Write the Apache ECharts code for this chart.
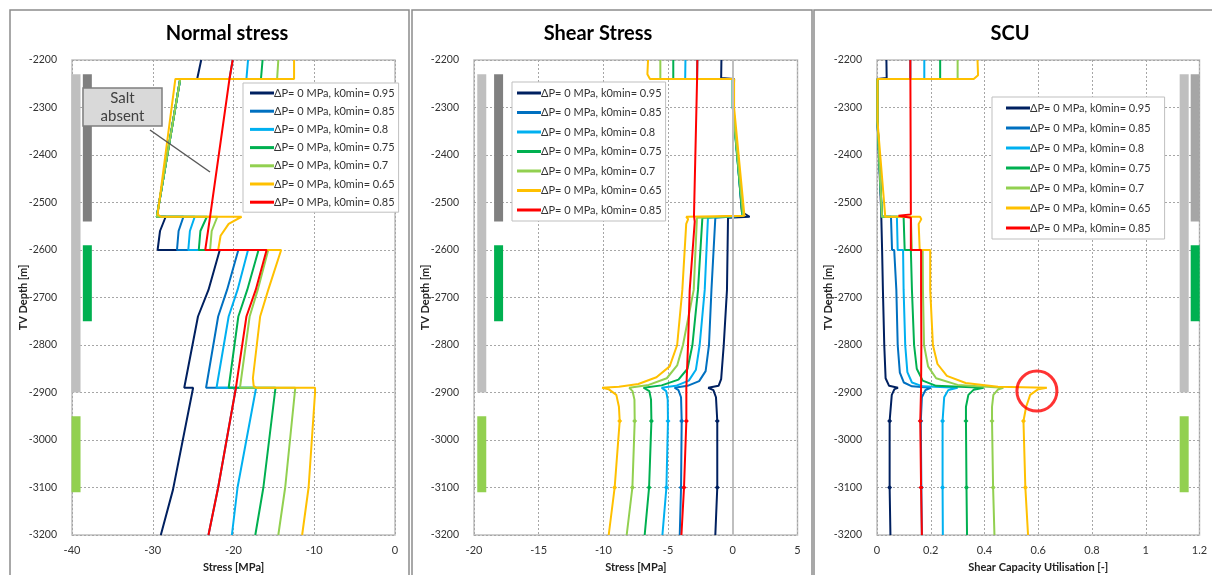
<!DOCTYPE html>
<html>
<head>
    <meta charset="UTF-8">
    <title>Normal stress / Shear Stress / SCU</title>
    <script src="https://cdn.jsdelivr.net/npm/echarts@6/dist/echarts.min.js"></script>
    <style>
        body { margin: 0; background: #fff; }
        #chart { width: 1212px; height: 575px; }
    </style>
</head>
<body>
    <div id="chart"></div>
    <script>
        // series keys and legend texts (blue and red share the same label)
        var seriesKeys = ['k095', 'k085', 'k080', 'k075', 'k070', 'k065', 'k085b'];
        var legendText = {
            k095: 'ΔP= 0 MPa, k0min= 0.95',
            k085: 'ΔP= 0 MPa, k0min= 0.85',
            k080: 'ΔP= 0 MPa, k0min= 0.8',
            k075: 'ΔP= 0 MPa, k0min= 0.75',
            k070: 'ΔP= 0 MPa, k0min= 0.7',
            k065: 'ΔP= 0 MPa, k0min= 0.65',
            k085b: 'ΔP= 0 MPa, k0min= 0.85'
        };
        var colors = ['#002060', '#0070c0', '#00b0f0', '#00b050', '#92d050', '#ffc000', '#ff0000'];

        // ---- Normal stress [MPa] vs depth [m]
        var normal095 = [[-24.0,-2200],[-24.5,-2240],[-26.6,-2240],[-29.2,-2500],[-29.5,-2530],[-28.4,-2530],[-29.1,-2560],[-29.4,-2600],[-21.7,-2600],[-23.1,-2684],[-24.4,-2740],[-26.1,-2890],[-25.0,-2890],[-27.5,-3105],[-29.0,-3200]];
        var normal085 = [[-20.1,-2200],[-20.5,-2240],[-26.6,-2240],[-29.2,-2500],[-29.5,-2530],[-26.2,-2530],[-26.8,-2560],[-27.0,-2600],[-19.4,-2600],[-20.8,-2684],[-21.9,-2740],[-23.4,-2890],[-19.7,-2890],[-21.9,-3100],[-23.1,-3200]];
        var normal080 = [[-18.2,-2200],[-18.4,-2240],[-26.6,-2240],[-29.2,-2500],[-29.5,-2530],[-24.8,-2530],[-25.4,-2560],[-25.6,-2600],[-18.2,-2600],[-19.5,-2684],[-20.6,-2740],[-22.1,-2890],[-17.2,-2890],[-19.5,-3100],[-20.2,-3200]];
        var normal075 = [[-16.4,-2200],[-16.6,-2240],[-26.6,-2240],[-29.2,-2500],[-29.5,-2530],[-23.3,-2530],[-24.1,-2560],[-24.3,-2600],[-16.9,-2600],[-18.3,-2684],[-19.4,-2740],[-20.6,-2890],[-14.8,-2890],[-16.3,-3100],[-17.3,-3200]];
        var normal070 = [[-14.45,-2200],[-14.6,-2240],[-26.6,-2240],[-29.2,-2500],[-29.5,-2530],[-22.0,-2530],[-22.7,-2560],[-22.9,-2600],[-15.7,-2600],[-17.0,-2684],[-18.0,-2740],[-19.2,-2890],[-12.35,-2890],[-13.6,-3100],[-14.45,-3200]];
        var normal065 = [[-12.5,-2200],[-12.5,-2240],[-27.2,-2240],[-29.2,-2500],[-29.4,-2525],[-29.0,-2530],[-19.0,-2530],[-20.6,-2545],[-21.6,-2570],[-21.9,-2600],[-14.1,-2600],[-15.7,-2684],[-16.7,-2740],[-17.6,-2870],[-17.5,-2886],[-17.2,-2890],[-9.9,-2890],[-9.9,-2900],[-10.7,-3100],[-11.5,-3200]];
        var normal085b = [[-20.1,-2200],[-20.5,-2240],[-22.9,-2530],[-23.5,-2600],[-15.9,-2600],[-17.25,-2684],[-18.4,-2740],[-19.7,-2890],[-21.9,-3100],[-23.1,-3200]];

        // ---- Shear stress [MPa] vs depth [m]
        var shear095 = [[-0.88,-2200],[-0.9,-2238],[0.1,-2240],[0.05,-2300],[0.7,-2520],[1.3,-2530],[-0.37,-2532],[-0.45,-2684],[-0.70,-2800],[-0.9,-2872],[-1.1,-2886],[-1.9,-2890],[-1.5,-2895],[-1.3,-2910],[-1.2,-2960],[-1.2,-3100],[-1.35,-3200]];
        var shear085 = [[-2.74,-2200],[-2.76,-2240],[0.0,-2240],[0.0,-2300],[0.8,-2528],[0.8,-2530],[-1.35,-2532],[-1.65,-2684],[-1.84,-2800],[-2.1,-2855],[-2.6,-2876],[-3.5,-2886],[-4.5,-2890],[-4.2,-2895],[-4.0,-2910],[-3.95,-2960],[-4.0,-3100],[-4.1,-3200]];
        var shear080 = [[-3.66,-2200],[-3.68,-2240],[0.0,-2240],[0.0,-2300],[0.75,-2528],[0.75,-2530],[-1.92,-2532],[-2.17,-2684],[-2.56,-2800],[-2.85,-2852],[-3.4,-2875],[-4.4,-2886],[-5.5,-2890],[-5.15,-2897],[-5.03,-2915],[-5.01,-2960],[-5.13,-3100],[-5.44,-3200]];
        var shear075 = [[-4.6,-2200],[-4.6,-2240],[0.0,-2240],[0.0,-2300],[0.75,-2528],[0.75,-2530],[-2.35,-2532],[-2.69,-2684],[-3.12,-2800],[-3.5,-2850],[-4.2,-2873],[-5.5,-2885],[-6.9,-2890],[-6.45,-2897],[-6.32,-2915],[-6.29,-2960],[-6.47,-3100],[-6.81,-3200]];
        var shear070 = [[-5.6,-2200],[-5.6,-2240],[0.0,-2240],[0.0,-2300],[0.8,-2528],[0.8,-2530],[-2.77,-2532],[-3.02,-2684],[-3.85,-2800],[-4.3,-2843],[-5.1,-2870],[-6.5,-2884],[-8.0,-2890],[-7.75,-2897],[-7.6,-2915],[-7.58,-2960],[-7.76,-3100],[-8.2,-3200]];
        var shear065 = [[-6.55,-2200],[-6.6,-2230],[-6.4,-2240],[0.1,-2240],[0.1,-2300],[0.9,-2528],[0.9,-2530],[-3.6,-2530],[-3.45,-2535],[-3.6,-2545],[-3.9,-2684],[-4.3,-2800],[-4.88,-2845],[-5.9,-2868],[-7.3,-2882],[-8.8,-2888],[-10.1,-2890],[-9.6,-2893],[-9.0,-2905],[-8.8,-2930],[-8.74,-2960],[-9.13,-3100],[-9.59,-3200]];
        var shear085b = [[-2.74,-2200],[-2.76,-2240],[-3.0,-2528],[-2.85,-2532],[-2.94,-2540],[-3.33,-2684],[-3.46,-2800],[-3.59,-2890],[-3.59,-2960],[-3.77,-3100],[-3.97,-3200]];

        // ---- Shear capacity utilisation [-] vs depth [m]
        var scu095 = [[0.035,-2200],[0.036,-2238],[0.002,-2240],[0.002,-2330],[0.016,-2525],[0.016,-2530],[0.012,-2532],[0.019,-2600],[0.025,-2600],[0.022,-2684],[0.027,-2800],[0.032,-2870],[0.045,-2886],[0.078,-2890],[0.065,-2893],[0.055,-2905],[0.047,-2960],[0.047,-3100],[0.05,-3200]];
        var scu085 = [[0.124,-2200],[0.124,-2240],[0.002,-2240],[0.002,-2330],[0.018,-2525],[0.018,-2530],[0.052,-2530],[0.056,-2600],[0.064,-2600],[0.072,-2684],[0.077,-2800],[0.085,-2858],[0.1,-2879],[0.13,-2887],[0.2,-2890],[0.18,-2895],[0.167,-2910],[0.163,-2960],[0.165,-3100],[0.167,-3200]];
        var scu080 = [[0.176,-2200],[0.176,-2240],[0.002,-2240],[0.002,-2330],[0.018,-2525],[0.018,-2530],[0.074,-2530],[0.077,-2600],[0.097,-2600],[0.099,-2684],[0.105,-2800],[0.113,-2857],[0.13,-2879],[0.17,-2887],[0.3,-2890],[0.265,-2895],[0.25,-2910],[0.244,-2960],[0.244,-3100],[0.245,-3200]];
        var scu075 = [[0.235,-2200],[0.235,-2240],[0.002,-2240],[0.002,-2330],[0.018,-2525],[0.018,-2530],[0.099,-2530],[0.103,-2600],[0.126,-2600],[0.13,-2684],[0.138,-2800],[0.148,-2850],[0.17,-2875],[0.22,-2886],[0.397,-2890],[0.36,-2894],[0.34,-2905],[0.331,-2930],[0.331,-2960],[0.333,-3100],[0.335,-3200]];
        var scu070 = [[0.30,-2200],[0.30,-2240],[0.002,-2240],[0.002,-2330],[0.018,-2525],[0.018,-2530],[0.126,-2530],[0.13,-2600],[0.17,-2600],[0.171,-2684],[0.175,-2800],[0.19,-2845],[0.22,-2870],[0.3,-2884],[0.47,-2890],[0.45,-2894],[0.433,-2905],[0.428,-2930],[0.428,-2960],[0.432,-3100],[0.437,-3200]];
        var scu065 = [[0.374,-2200],[0.376,-2232],[0.36,-2240],[0.002,-2240],[0.002,-2330],[0.03,-2525],[0.03,-2530],[0.16,-2530],[0.165,-2535],[0.155,-2545],[0.159,-2600],[0.198,-2600],[0.198,-2684],[0.208,-2800],[0.225,-2840],[0.26,-2865],[0.33,-2880],[0.45,-2888],[0.632,-2890],[0.6,-2893],[0.57,-2905],[0.555,-2930],[0.545,-2960],[0.552,-3100],[0.562,-3200]];
        var scu085b = [[0.124,-2200],[0.126,-2525],[0.08,-2528],[0.126,-2532],[0.126,-2600],[0.164,-2600],[0.164,-2684],[0.165,-2800],[0.164,-2890],[0.161,-2960],[0.164,-3100],[0.167,-3200]];

        // depth intervals of the formation bars [top, bottom]
        var saltZone = [-2230, -2900];     // light grey
        var upperZone = [-2230, -2540];    // dark grey
        var reservoirA = [-2590, -2750];   // green
        var reservoirB = [-2950, -3110];   // light green
        // x of the two bar columns in each panel (data units)
        var barColumns = [[-39.5, -38.1], [-19.4, -18.1], [1.143, 1.184]];
        var darkBarColor = ['#7f7f7f', '#808080', '#a6a6a6'];

        // depths where the shear / SCU curves carry small point markers
        var markerDepths = [-2960, -3100];

        // marked point on the SCU plot
        var scuPeak = [[0.595, -2897]];

        var panelTitles = ['Normal stress', 'Shear Stress', 'SCU'];
        var xNames = ['Stress [MPa]', 'Stress [MPa]', 'Shear Capacity Utilisation [-]'];
        var xRanges = [[-40, 0, 10], [-20, 5, 5], [0, 1.2, 0.2]];
        var depthRange = [-3200, -2200, 100];

        var panels = [
            [normal095, normal085, normal080, normal075, normal070, normal065, normal085b],
            [shear095, shear085, shear080, shear075, shear070, shear065, shear085b],
            [scu095, scu085, scu080, scu075, scu070, scu065, scu085b]
        ];

        var gridPos = [
            { left: 72, top: 60, width: 323, height: 475 },
            { left: 474, top: 60, width: 323.5, height: 475 },
            { left: 877, top: 60, width: 322.5, height: 475 }
        ];
        var titlePos = [[222, 19], [593, 19], [1005, 19]];
        var legendPos = [
            { left: 243, top: 83, itemGap: 4.2, padding: [3, 4, 3, 7] },
            { left: 512, top: 82, itemGap: 5.5, padding: [4, 4, 4, 5] },
            { left: 992, top: 97, itemGap: 6, padding: [4, 14, 4, 14] }
        ];

        var font = 'Lato, "Open Sans", sans-serif';
        var grids = [], xAxes = [], yAxes = [], titles = [], legends = [], series = [];

        function withMarkers(pts, on) {
            if (!on) return pts;
            return pts.map(function (pt) {
                if (markerDepths.indexOf(pt[1]) !== -1) {
                    return { value: pt, symbol: 'diamond', symbolSize: 5 };
                }
                return pt;
            });
        }

        for (var p = 0; p < 3; p++) {
            grids.push({
                left: gridPos[p].left, top: gridPos[p].top, width: gridPos[p].width, height: gridPos[p].height,
                outerBoundsMode: 'none',
                show: true, borderColor: '#bfbfbf', borderWidth: 1.5, backgroundColor: '#fff'
            });
            xAxes.push({
                type: 'value', gridIndex: p, min: xRanges[p][0], max: xRanges[p][1], interval: xRanges[p][2],
                name: xNames[p], nameLocation: 'middle', nameGap: 27,
                nameTextStyle: { fontFamily: font, fontWeight: 'bold', fontSize: 11, color: '#222' },
                axisLine: { show: false }, axisTick: { show: false },
                axisLabel: { fontFamily: font, fontSize: 11, color: '#333', margin: 10 },
                splitLine: { lineStyle: { type: [2, 2], color: '#a6a6a6', width: 1 } }
            });
            yAxes.push({
                type: 'value', gridIndex: p, min: depthRange[0], max: depthRange[1], interval: depthRange[2],
                name: 'TV Depth [m]', nameLocation: 'middle', nameGap: 43, nameMoveOverlap: false,
                nameTextStyle: { fontFamily: font, fontWeight: 'bold', fontSize: 11, color: '#222' },
                axisLine: { show: false }, axisTick: { show: false },
                axisLabel: {
                    fontFamily: font, fontSize: 10.5, color: '#333', margin: 15,
                    formatter: function (v) { return String(v); }
                },
                splitLine: { lineStyle: { type: [2, 2], color: '#a6a6a6', width: 1 } }
            });
            titles.push({
                text: panelTitles[p], left: titlePos[p][0], top: titlePos[p][1], textAlign: 'center',
                textStyle: { fontFamily: font, fontWeight: 'bold', fontSize: 20, color: '#000' }
            });
            legends.push({
                data: seriesKeys.slice(), orient: 'vertical',
                left: legendPos[p].left, top: legendPos[p].top, itemGap: legendPos[p].itemGap, padding: legendPos[p].padding,
                backgroundColor: '#fff', borderColor: '#bfbfbf', borderWidth: 1,
                icon: 'rect', itemWidth: 24, itemHeight: 3, selectedMode: false,
                formatter: function (name) { return legendText[name]; },
                textStyle: { fontFamily: font, fontSize: 11, color: '#333', lineHeight: 14, padding: [0, 0, 0, -5] }
            });

            // formation bars
            var cols = barColumns[p];
            var bars = [
                { x: cols[0], zone: saltZone, color: '#bfbfbf' },
                { x: cols[1], zone: upperZone, color: darkBarColor[p] },
                { x: cols[1], zone: reservoirA, color: '#00b050' },
                { x: cols[0], zone: reservoirB, color: '#92d050' }
            ];
            for (var b = 0; b < bars.length; b++) {
                var barSeries = {
                    type: 'line', xAxisIndex: p, yAxisIndex: p, silent: true, symbol: 'none', z: 1,
                    data: [[bars[b].x, bars[b].zone[0]], [bars[b].x, bars[b].zone[1]]],
                    lineStyle: { color: bars[b].color, width: 9, cap: 'butt' }
                };
                if (p === 1 && b === 0) {
                    barSeries.markLine = {
                        silent: true, symbol: 'none', label: { show: false },
                        lineStyle: { color: '#bfbfbf', width: 2, type: 'solid' },
                        data: [{ xAxis: 0 }]
                    };
                }
                series.push(barSeries);
            }

            for (var s = 0; s < seriesKeys.length; s++) {
                series.push({
                    name: seriesKeys[s], type: 'line', xAxisIndex: p, yAxisIndex: p,
                    data: withMarkers(panels[p][s], p > 0), symbol: 'none', showSymbol: p > 0, z: 3,
                    silent: true,
                    lineStyle: { color: colors[s], width: 2 }, itemStyle: { color: colors[s] }
                });
            }
        }

        series.push({
            type: 'scatter', xAxisIndex: 2, yAxisIndex: 2, data: scuPeak, symbol: 'circle', symbolSize: 40, z: 4,
            itemStyle: { color: 'rgba(0,0,0,0)', borderColor: '#ff0000', borderWidth: 3 }, silent: true
        });

        var option = {
            backgroundColor: '#fff',
            animation: false,
            title: titles,
            legend: legends,
            grid: grids,
            xAxis: xAxes,
            yAxis: yAxes,
            series: series,
            graphic: [
                { type: 'rect', shape: { x: 10, y: 10, width: 399, height: 600 }, style: { fill: 'none', stroke: '#8c8c8c', lineWidth: 1.5 }, z: 0 },
                { type: 'rect', shape: { x: 412, y: 10, width: 400, height: 600 }, style: { fill: 'none', stroke: '#8c8c8c', lineWidth: 1.5 }, z: 0 },
                { type: 'rect', shape: { x: 814, y: 10, width: 420, height: 600 }, style: { fill: 'none', stroke: '#8c8c8c', lineWidth: 1.5 }, z: 0 },
                { type: 'line', shape: { x1: 150, y1: 130, x2: 210, y2: 172 }, style: { stroke: '#595959', lineWidth: 1.5 }, z: 10 },
                { type: 'rect', shape: { x: 83, y: 88, width: 79, height: 38 }, style: { fill: '#d9d9d9', stroke: '#7f7f7f', lineWidth: 1.5 }, z: 10 },
                {
                    type: 'text', x: 122.5, y: 107, z: 11,
                    style: { text: 'Salt\nabsent', fontFamily: font, fontSize: 15, fill: '#404040', align: 'center', verticalAlign: 'middle', lineHeight: 18 }
                }
            ]
        };

        var myChart = echarts.init(document.getElementById('chart'));
        myChart.setOption(option);
    </script>
</body>
</html>
